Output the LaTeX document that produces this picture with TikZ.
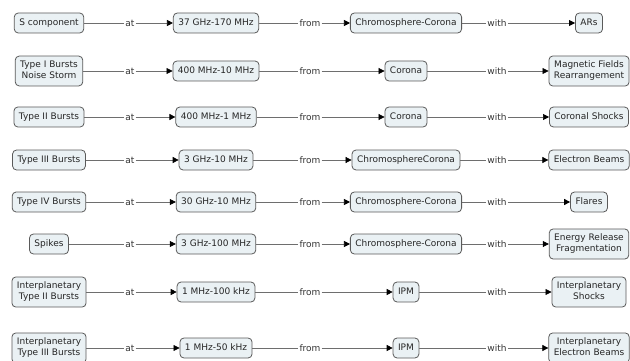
\documentclass[tikz,border=0pt]{standalone}
\usepackage{fontspec}
\setmainfont{DejaVu Sans}
\usetikzlibrary{arrows.meta}
\definecolor{boxfill}{HTML}{EAF1F4}
\definecolor{boxline}{HTML}{5A5A5A}
\definecolor{linkline}{HTML}{6E6E6E}
\definecolor{labeltext}{HTML}{333333}
\begin{document}
\begin{tikzpicture}[x=1pt,y=-1pt,
  concept/.style={draw=boxline, fill=boxfill, rounded corners=4pt, line width=0.8pt,
    align=center, inner xsep=5pt, inner ysep=4.5pt, text=black!85,
    font=\fontsize{9}{11}\selectfont,
    execute at begin node=\strut, execute at end node=\strut},
  linkword/.style={inner sep=1pt, text=labeltext, font=\fontsize{9}{11}\selectfont},
  link/.style={draw=linkline, line width=0.7pt},
  linkto/.style={link, -{Triangle[length=6pt,width=6pt,color=black]}}]
\useasboundingbox (0,0) rectangle (630,361);
\foreach \n/\y/\src/\freq/\region/\cause in {
  1/23/{S component}/{37 GHz-170 MHz}/{Chromosphere-Corona}/{ARs},
  2/71/{Type I Bursts\\Noise Storm}/{400 MHz-10 MHz}/{Corona}/{Magnetic Fields\\Rearrangement},
  3/117/{Type II Bursts}/{400 MHz-1 MHz}/{Corona}/{Coronal Shocks},
  4/160/{Type III Bursts}/{3 GHz-10 MHz}/{ChromosphereCorona}/{Electron Beams},
  5/202/{Type IV Bursts}/{30 GHz-10 MHz}/{Chromosphere-Corona}/{Flares},
  6/244/{Spikes}/{3 GHz-100 MHz}/{Chromosphere-Corona}/{Energy Release\\Fragmentation},
  7/292/{Interplanetary\\Type II Bursts}/{1 MHz-100 kHz}/{IPM}/{Interplanetary\\Shocks},
  8/348/{Interplanetary\\Type III Bursts}/{1 MHz-50 kHz}/{IPM}/{Interplanetary\\Electron Beams}}
{
  % concepts of one row
  \node[concept] (src\n) at (49,\y) {\src};
  \node[concept] (freq\n) at (216,\y) {\freq};
  \node[concept] (reg\n) at (406,\y) {\region};
  \node[concept] (cause\n) at (589,\y) {\cause};
  % linking phrases
  \node[linkword] (at\n) at (130,\y) {at};
  \node[linkword] (from\n) at (310,\y) {from};
  \node[linkword] (with\n) at (497,\y) {with};
  % propositions
  \draw[link] (src\n) -- (at\n);
  \draw[linkto] (at\n) -- (freq\n);
  \draw[link] (freq\n) -- (from\n);
  \draw[linkto] (from\n) -- (reg\n);
  \draw[link] (reg\n) -- (with\n);
  \draw[linkto] (with\n) -- (cause\n);
}
\end{tikzpicture}
\end{document}
